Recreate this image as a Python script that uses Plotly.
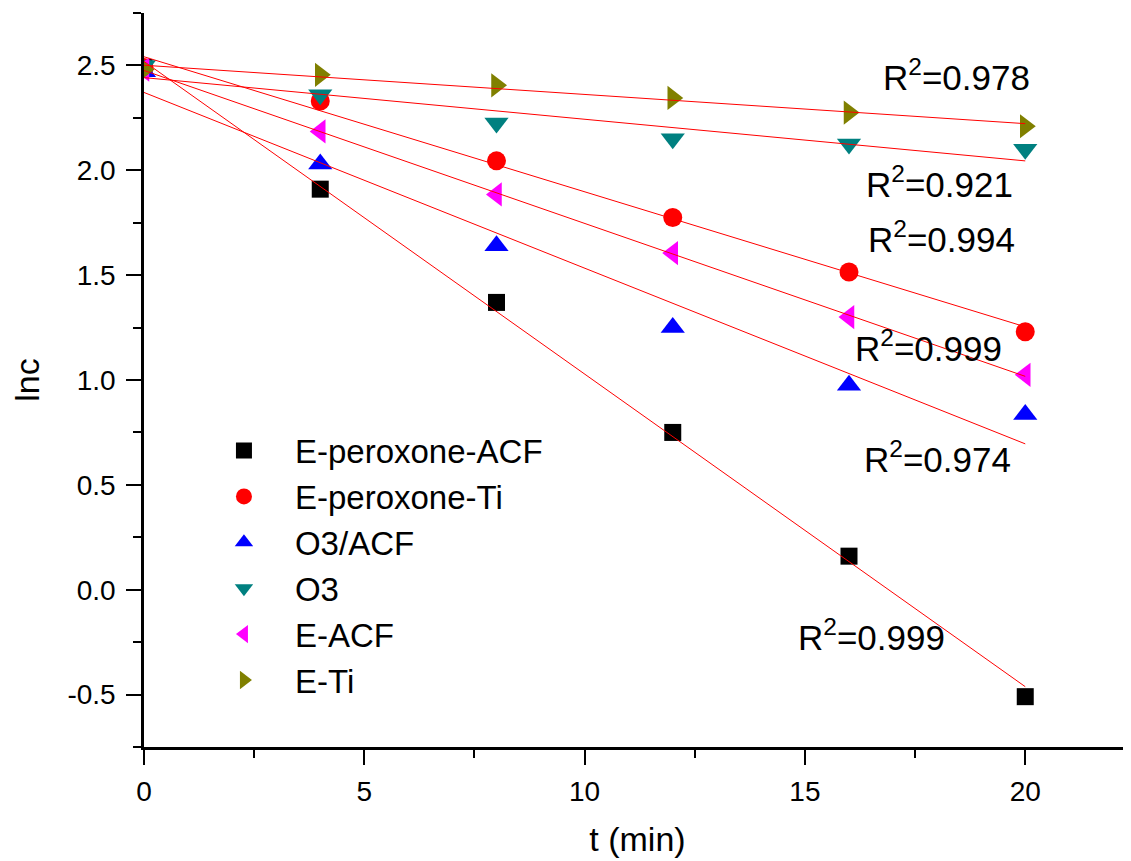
import numpy as np
import plotly.graph_objects as go

t = [0, 4, 8, 12, 16, 20]
series_names = ["E-peroxone-ACF", "E-peroxone-Ti", "O3/ACF", "O3", "E-ACF", "E-Ti"]
e_peroxone_acf = [2.49, 1.91, 1.37, 0.75, 0.16, -0.51]
e_peroxone_ti = [2.49, 2.33, 2.045, 1.775, 1.515, 1.23]
o3_acf = [2.47, 2.03, 1.64, 1.25, 0.975, 0.835]
o3 = [2.50, 2.36, 2.225, 2.15, 2.125, 2.10]
e_acf = [2.48, 2.185, 1.885, 1.605, 1.30, 1.025]
e_ti = [2.48, 2.455, 2.405, 2.345, 2.275, 2.21]
r2_labels = ["R<sup>2</sup>=0.999", "R<sup>2</sup>=0.994", "R<sup>2</sup>=0.974",
             "R<sup>2</sup>=0.921", "R<sup>2</sup>=0.999", "R<sup>2</sup>=0.978"]
r2_x = [16.5, 18.1, 18.0, 18.05, 17.8, 18.45]
r2_y = [-0.215, 1.68, 0.635, 1.945, 1.16, 2.455]
y_tickvals = [-0.5, 0.0, 0.5, 1.0, 1.5, 2.0, 2.5]
y_ticktext = ["-0.5", "0.0", "0.5", "1.0", "1.5", "2.0", "2.5"]

values = [e_peroxone_acf, e_peroxone_ti, o3_acf, o3, e_acf, e_ti]
colors = ["#000000", "#FF0000", "#0000FF", "#008080", "#FF00FF", "#808000"]
symbols = ["square", "circle", "triangle-up", "triangle-down", "triangle-left", "triangle-right"]
sizes = [17, 19, 21, 21, 21, 21]

FONT = "Liberation Sans, Arial, sans-serif"
fig = go.Figure()
for name, vals, c, s, sz in zip(series_names, values, colors, symbols, sizes):
    fig.add_trace(go.Scatter(x=t, y=vals, mode="markers", name=name,
                             marker=dict(symbol=s, size=sz, color=c, line=dict(width=0))))
for vals in values:
    k, b = np.polyfit(t, vals, 1)
    xs = np.array([t[0], t[-1]])
    fig.add_trace(go.Scatter(x=xs, y=k * xs + b, mode="lines", showlegend=False,
                             line=dict(color="#FF0000", width=1), hoverinfo="skip"))

for txt, x, y in zip(r2_labels, r2_x, r2_y):
    fig.add_annotation(x=x, y=y, text=txt, showarrow=False,
                       font=dict(family=FONT, size=35, color="black"))

# page body has an 8px default margin, so margins are offset to land the plot area
fig.update_layout(
    width=1131, height=861,
    margin=dict(l=136, r=8, t=5, b=122),
    paper_bgcolor="white", plot_bgcolor="white",
    font=dict(family=FONT, color="black"),
    showlegend=True,
    legend=dict(x=0.0496, y=0.442, xanchor="left", yanchor="top",
                bgcolor="rgba(0,0,0,0)", font=dict(family=FONT, size=33),
                itemwidth=92),
    xaxis=dict(range=[0, 22.4], dtick=5, tick0=0, showgrid=False, zeroline=False,
               automargin=False,
               showline=True, linecolor="black", linewidth=2.5,
               ticks="outside", ticklen=15, tickwidth=2, tickcolor="black",
               tickfont=dict(size=28), ticklabelstandoff=3,
               minor=dict(dtick=2.5, ticks="outside", ticklen=8, tickwidth=2, tickcolor="black"),
               title=dict(text="t (min)", font=dict(size=34), standoff=21)),
    yaxis=dict(range=[-0.75, 2.75], tickvals=y_tickvals, ticktext=y_ticktext,
               showgrid=False, zeroline=False, automargin=False,
               showline=True, linecolor="black", linewidth=2.5,
               ticks="outside", ticklen=15, tickwidth=2, tickcolor="black",
               tickfont=dict(size=28), ticklabelstandoff=5,
               minor=dict(dtick=0.25, tick0=0, ticks="outside", ticklen=8, tickwidth=2, tickcolor="black"),
               title=dict(text="lnc", font=dict(size=34), standoff=27)),
)
fig.write_html("out.html")
